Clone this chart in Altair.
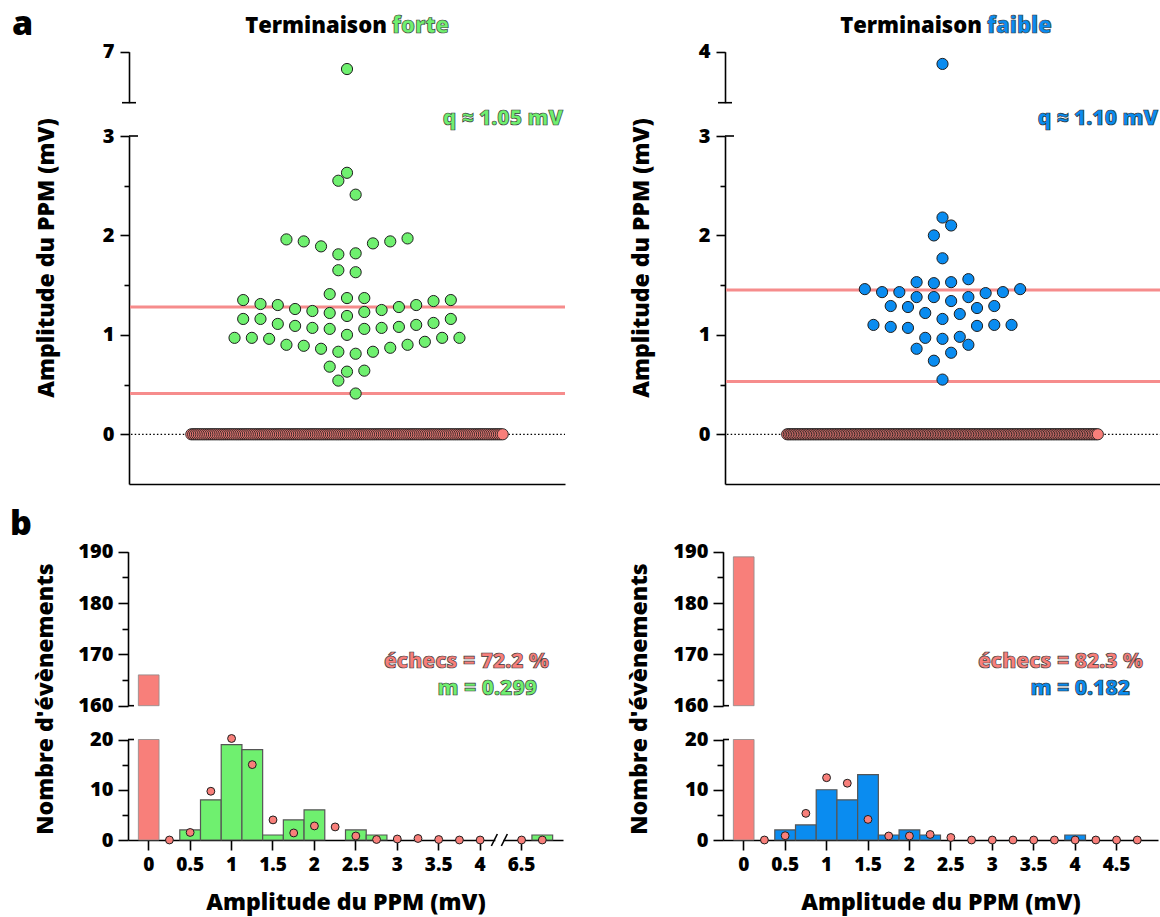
import altair as alt
import numpy as np
import pandas as pd

# ------------------------------------------------------------------ data
# beeswarm rows (values in mV, read left -> right in each row)
forte_rows = [
    [6.83],
    [2.63],
    [2.55, 2.41],
    [1.96, 1.94, 1.89, 1.81, 1.82, 1.92, 1.94, 1.97],
    [1.65, 1.63],
    [1.41, 1.37, 1.37],
    [1.35, 1.31, 1.30, 1.26, 1.24, 1.22, 1.19, 1.23, 1.25, 1.28, 1.30, 1.34, 1.35],
    [1.16, 1.16, 1.11, 1.09, 1.07, 1.06, 1.00, 1.06, 1.07, 1.08, 1.10, 1.12, 1.16],
    [0.97, 0.97, 0.96, 0.90, 0.89, 0.86, 0.83, 0.81, 0.83, 0.87, 0.90, 0.93, 0.97, 0.97],
    [0.68, 0.63, 0.64],
    [0.54, 0.41],
]
faible_rows = [
    [3.88],
    [2.18],
    [2.00, 2.10],
    [1.77],
    [1.46, 1.43, 1.43, 1.53, 1.52, 1.53, 1.56, 1.42, 1.43, 1.46],
    [1.38, 1.38, 1.34, 1.38],
    [1.29, 1.28, 1.22, 1.16, 1.21, 1.27, 1.29],
    [1.10, 1.08, 1.07, 0.97, 0.96, 0.98, 1.09, 1.10, 1.10],
    [0.86, 0.74, 0.82, 0.90],
    [0.55],
]
forte_failures = 166
faible_failures = 189
forte_thresholds = [1.28, 0.41]
faible_thresholds = [1.45, 0.53]

forte_bins = ["0", "0.25", "0.5", "0.75", "1", "1.25", "1.5", "1.75", "2", "2.25",
              "2.5", "2.75", "3", "3.25", "3.5", "3.75", "4", "//", "6.5", "6.75"]
forte_counts = [166, 0, 2, 8, 19, 18, 1, 4, 6, 0, 2, 1, 0, 0, 0, 0, 0, None, 0, 1]
forte_poisson = [None, 0.0, 1.5, 9.7, 20.2, 15.0, 4.0, 1.4, 2.8, 2.6, 0.8, 0.1, 0.2,
                 0.3, 0.1, 0.0, 0.0, None, 0.0, 0.0]
forte_ticks = ["0", "0.5", "1", "1.5", "2", "2.5", "3", "3.5", "4", "6.5"]

faible_bins = ["0", "0.25", "0.5", "0.75", "1", "1.25", "1.5", "1.75", "2", "2.25",
               "2.5", "2.75", "3", "3.25", "3.5", "3.75", "4", "4.25", "4.5", "4.75"]
faible_counts = [189, 0, 2, 3, 10, 8, 13, 1, 2, 1, 0, 0, 0, 0, 0, 0, 1, 0, 0, 0]
faible_poisson = [None, 0.0, 0.85, 5.3, 12.4, 11.3, 4.1, 0.8, 0.8, 1.1, 0.5, 0.0, 0.0,
                  0.0, 0.0, 0.0, 0.0, 0.0, 0.0, 0.0]
faible_ticks = ["0", "0.5", "1", "1.5", "2", "2.5", "3", "3.5", "4", "4.5"]

title_main = "Terminaison"
title_kinds = ["forte", "faible"]
q_labels = ["q ≈ 1.05 mV", "q ≈ 1.10 mV"]
fail_labels = ["échecs = 72.2 %", "échecs = 82.3 %"]
m_labels = ["m = 0.299", "m = 0.182"]
ytitle_top = "Amplitude du PPM (mV)"
ytitle_bottom = "Nombre d'évènements"
xtitle_bottom = "Amplitude du PPM (mV)"

# ------------------------------------------------------------------ style / layout
W, H = 1160, 917
FONT = "Open Sans"
WEIGHT = 800
BLACK = "#000000"
GREEN = "#6ff06f"
BLUE = "#0a8cf0"
SALMON = "#f87f7a"
LINE_RED = "#f68c8c"
EDGE = "#1e1e1e"
TICK_FS = 20
TITLE_FS = 23
NOTE_FS = 21

TOP_Y_LOW = [484, 136]      # domain [-0.5, 3]
TOP_Y_UP = [102.7, 51.7]    # upper broken segment
HIST_Y_LOW = [840, 739.5]   # domain [0, 20]
HIST_Y_UP = [705.7, 551.7]  # domain [160, 190]


def qscale(domain, rng):
    return alt.Scale(domain=domain, range=rng, nice=False, zero=False)


def yaxis(x, values, tick=9, labels=True, domain=True, pad=6):
    return alt.Axis(orient="left", offset=-x, values=values, tickSize=tick,
                    labels=labels, domain=domain, title=None, grid=False,
                    format="d",
                    domainColor=BLACK, domainWidth=1.6, tickColor=BLACK,
                    tickWidth=1.6, labelFont=FONT, labelFontSize=TICK_FS,
                    labelFontWeight=WEIGHT, labelColor=BLACK, labelPadding=pad)


def text_layer(t, x, y, size, fill=BLACK, align="center", angle=0,
               baseline="alphabetic", stroke=None):
    kw = dict(font=FONT, fontSize=size, fontWeight=WEIGHT, fill=fill,
              align=align, baseline=baseline, angle=angle)
    if stroke:
        kw.update(stroke=stroke, strokeWidth=0.7)
    return alt.Chart(pd.DataFrame({"t": [t]})).mark_text(**kw).encode(
        text="t:N", x=alt.value(x), y=alt.value(y))


def vrule(x1, y1, x2, y2, color=BLACK, width=1.6):
    return alt.Chart(pd.DataFrame({"d": [0]})).mark_rule(
        color=color, strokeWidth=width).encode(
        x=alt.value(x1), y=alt.value(y1), x2=alt.value(x2), y2=alt.value(y2))


def swarm(rows, n_fail, span=9.0):
    recs = []
    for row in rows:
        n = len(row)
        for i, v in enumerate(row):
            recs.append({"v": v, "s": i - (n - 1) / 2.0, "fail": False})
    for s in np.linspace(-span, span, n_fail):
        recs.append({"v": 0.0, "s": float(s), "fail": True})
    return pd.DataFrame(recs)


def scatter_panel(rows, n_fail, upper_dom, thresholds, x0, x1, fill):
    df = swarm(rows, n_fail)
    sx = alt.Scale(domain=[-12.6, 12.6], range=[x0, x1], nice=False, zero=False)
    sy_low = qscale([-0.5, 3], TOP_Y_LOW)
    sy_up = qscale(upper_dom, TOP_Y_UP)
    xaxis = alt.Axis(orient="bottom", offset=TOP_Y_LOW[0] - H, ticks=False,
                     labels=False, domain=True, grid=False, title=None,
                     domainColor=BLACK, domainWidth=1.6)
    L = []
    L.append(alt.Chart(pd.DataFrame({"v": thresholds})).mark_rule(
        color=LINE_RED, strokeWidth=3).encode(
        x=alt.value(x0 + 1), x2=alt.value(x1),
        y=alt.Y("v:Q", scale=sy_low, axis=yaxis(x0, [0.5, 1.5, 2.5], tick=5, labels=False, domain=False))))
    L.append(alt.Chart(pd.DataFrame({"v": [0.0]})).mark_rule(
        color=BLACK, strokeWidth=1.3, strokeDash=[1.5, 2.2]).encode(
        x=alt.value(x0 + 2), x2=alt.value(x1),
        y=alt.Y("v:Q", scale=sy_low, axis=yaxis(x0, [0, 1, 2, 3]))))
    # break caps
    L.append(alt.Chart(pd.DataFrame({"v": [3.0]})).mark_rule(color=BLACK, strokeWidth=1.6).encode(
        x=alt.value(x0), x2=alt.value(x0 + 9), y=alt.Y("v:Q", scale=sy_low, axis=None)))
    L.append(alt.Chart(pd.DataFrame({"v": [upper_dom[0]]})).mark_rule(color=BLACK, strokeWidth=1.6).encode(
        x=alt.value(x0 - 7), x2=alt.value(x0 + 7),
        y=alt.Y("v:Q", scale=sy_up, axis=yaxis(x0, [upper_dom[1]]))))
    # failures
    L.append(alt.Chart(df[df.fail]).mark_circle(
        size=125, fill=SALMON, stroke=EDGE, strokeWidth=0.9, opacity=1).encode(
        x=alt.X("s:Q", scale=sx, axis=xaxis),
        y=alt.Y("v:Q", scale=sy_low, axis=None)))
    low = df[(~df.fail) & (df.v <= 3)]
    L.append(alt.Chart(low).mark_circle(
        size=125, fill=fill, stroke=EDGE, strokeWidth=1, opacity=1).encode(
        x=alt.X("s:Q", scale=sx, axis=None),
        y=alt.Y("v:Q", scale=sy_low, axis=None)))
    up = df[df.v > 3]
    L.append(alt.Chart(up).mark_circle(
        size=125, fill=fill, stroke=EDGE, strokeWidth=1, opacity=1).encode(
        x=alt.X("s:Q", scale=sx, axis=None),
        y=alt.Y("v:Q", scale=sy_up, axis=None)))
    return L


def hist_panel(bins, counts, poisson, ticks, x0, x1, fill, brk=None):
    sx = alt.Scale(type="band", domain=bins, range=[x0, x1],
                   paddingInner=0, paddingOuter=0.5)
    sy_low = qscale([0, 20], HIST_Y_LOW)
    sy_up = qscale([160, 190], HIST_Y_UP)
    b = pd.DataFrame({"b": bins, "c": counts}).dropna()
    b = b[b.c > 0].copy()
    b["lo"] = 0.0
    b["hi"] = b.c.clip(upper=20)
    fails = b[b.b == "0"]
    succ = b[b.b != "0"]
    upper = b[b.c > 160].copy()
    upper["lo"] = 160.0
    upper["hi"] = upper.c
    xaxis = alt.Axis(orient="bottom", offset=HIST_Y_LOW[0] - H, values=ticks,
                     tickSize=10, labels=True, domain=True, grid=False, title=None,
                     domainColor=BLACK, domainWidth=1.6, tickColor=BLACK,
                     tickWidth=1.6, labelFont=FONT, labelFontSize=TICK_FS - 1,
                     labelFontWeight=WEIGHT, labelColor=BLACK, labelPadding=5,
                     labelAngle=0)
    L = []
    L.append(alt.Chart(succ).mark_bar(fill=fill, stroke="#555555", strokeWidth=1.2).encode(
        x=alt.X("b:N", scale=sx, axis=xaxis),
        y=alt.Y("lo:Q", scale=sy_low, axis=yaxis(x0, [0, 10, 20], tick=10, pad=5)),
        y2="hi:Q"))
    L.append(alt.Chart(fails).mark_bar(fill=SALMON, stroke="#8a8a8a", strokeWidth=0.8).encode(
        x=alt.X("b:N", scale=sx, axis=None),
        y=alt.Y("lo:Q", scale=sy_low, axis=None), y2="hi:Q"))
    L.append(alt.Chart(upper).mark_bar(fill=SALMON, stroke="#8a8a8a", strokeWidth=0.8).encode(
        x=alt.X("b:N", scale=sx, axis=None),
        y=alt.Y("lo:Q", scale=sy_up, axis=yaxis(x0, [160, 170, 180, 190], tick=10, pad=5)),
        y2="hi:Q"))
    # minor ticks + break caps
    L.append(alt.Chart(pd.DataFrame({"v": [20.0]})).mark_rule(color=BLACK, strokeWidth=1.6).encode(
        x=alt.value(x0), x2=alt.value(x0 + 6),
        y=alt.Y("v:Q", scale=sy_low, axis=yaxis(x0, [5, 15], tick=6, labels=False, domain=False))))
    L.append(alt.Chart(pd.DataFrame({"v": [160.0]})).mark_rule(color=BLACK, strokeWidth=1.6).encode(
        x=alt.value(x0), x2=alt.value(x0 + 6),
        y=alt.Y("v:Q", scale=sy_up, axis=yaxis(x0, [165, 175, 185], tick=6, labels=False, domain=False))))
    if brk is not None:
        step = (x1 - x0) / (len(bins) + 1)
        bx = x0 + step * (bins.index(brk) + 1) - 1.5
        y0 = HIST_Y_LOW[0]
        L.append(vrule(bx - 4, y0, bx + 4, y0, color="white", width=4))
        L.append(vrule(bx - 8, y0 + 6, bx - 2, y0 - 6))
        L.append(vrule(bx + 2, y0 + 6, bx + 8, y0 - 6))
    p = pd.DataFrame({"b": bins, "p": poisson}).dropna()
    L.append(alt.Chart(p).mark_circle(size=62, fill=SALMON, stroke=EDGE, strokeWidth=1, opacity=1).encode(
        x=alt.X("b:N", scale=sx, axis=None),
        y=alt.Y("p:Q", scale=sy_low, axis=None)))
    return L


layers = []
layers += scatter_panel(forte_rows, forte_failures, [6.5, 7], forte_thresholds, 129, 565, GREEN)
layers += scatter_panel(faible_rows, faible_failures, [3.5, 4], faible_thresholds, 725, 1160, BLUE)
layers += hist_panel(forte_bins, forte_counts, forte_poisson, forte_ticks, 128, 563, GREEN, brk="//")
layers += hist_panel(faible_bins, faible_counts, faible_poisson, faible_ticks, 723, 1158, BLUE)

# panel letters
layers.append(text_layer("a", 12, 35, 34, align="left"))
layers.append(text_layer("b", 10, 535, 34, align="left"))
# titles
for (split, kind, col) in [(389, title_kinds[0], GREEN), (984, title_kinds[1], BLUE)]:
    layers.append(text_layer(title_main, split - 2, 33, TITLE_FS - 1, align="right"))
    layers.append(text_layer(kind, split + 3, 33, TITLE_FS - 1, fill=col, align="left", stroke="#3a3a3a"))
# q labels
layers.append(text_layer(q_labels[0], 563, 125, NOTE_FS, fill=GREEN, align="right", stroke="#3a3a3a"))
layers.append(text_layer(q_labels[1], 1158, 125, NOTE_FS, fill=BLUE, align="right", stroke="#2a2a2a"))
# failures / m
layers.append(text_layer(fail_labels[0], 549, 668, NOTE_FS, fill=SALMON, align="right", stroke="#3a3a3a"))
layers.append(text_layer(m_labels[0], 537, 695, NOTE_FS, fill=GREEN, align="right", stroke="#3a3a3a"))
layers.append(text_layer(fail_labels[1], 1143, 668, NOTE_FS, fill=SALMON, align="right", stroke="#3a3a3a"))
layers.append(text_layer(m_labels[1], 1130, 695, NOTE_FS, fill=BLUE, align="right", stroke="#2a2a2a"))
# axis titles
layers.append(text_layer(ytitle_top, 47, 258, TITLE_FS, angle=270, baseline="middle"))
layers.append(text_layer(ytitle_top, 642, 258, TITLE_FS, angle=270, baseline="middle"))
layers.append(text_layer(ytitle_bottom, 46, 699, TITLE_FS, angle=270, baseline="middle"))
layers.append(text_layer(ytitle_bottom, 640, 699, TITLE_FS, angle=270, baseline="middle"))
layers.append(text_layer(xtitle_bottom, 346, 910, TITLE_FS))
layers.append(text_layer(xtitle_bottom, 941, 910, TITLE_FS))

chart = alt.layer(*layers).resolve_scale(x="independent", y="independent").properties(
    width=W, height=H, autosize=alt.AutoSizeParams(type="none"), padding=0
).configure_view(stroke=None)

chart.save("out.html", embed_options={"renderer": "svg", "actions": False})
